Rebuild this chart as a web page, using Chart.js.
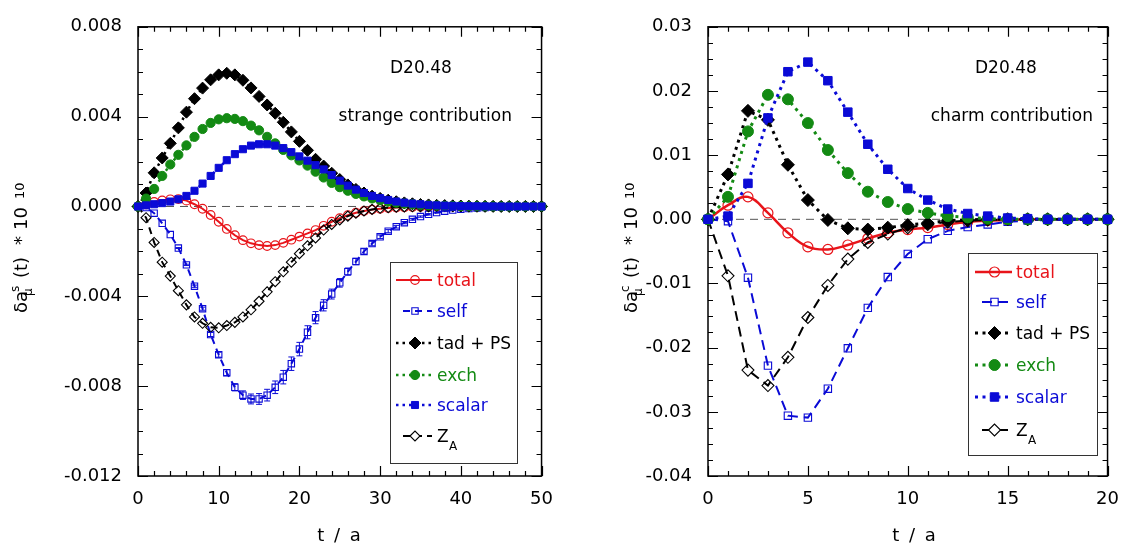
<!DOCTYPE html>
<html>
<head>
<meta charset="utf-8">
<script src="https://cdn.jsdelivr.net/npm/chart.js@4.4.1/dist/chart.umd.min.js"></script>
<style>
  body { margin: 0; background: #fff; }
  #wrap { position: relative; width: 1132px; height: 545px; }
  canvas { position: absolute; top: 0; }
  #cS { left: 0; }
  #cC { left: 566px; }
</style>
</head>
<body>
<div id="wrap">
  <canvas id="cS" width="566" height="545"></canvas>
  <canvas id="cC" width="566" height="545"></canvas>
</div>
<script>
// values in units of 10^-3
const UNIT = 1e-3;

// ---- strange contribution, t/a = 0..50 ----
const tStrange = [0,1,2,3,4,5,6,7,8,9,10,11,12,13,14,15,16,17,18,19,20,21,22,23,24,25,26,27,28,29,30,31,32,33,34,35,36,37,38,39,40,41,42,43,44,45,46,47,48,49,50];
const sTotal  = [0,0.1,0.2,0.27,0.32,0.33,0.26,0.1,-0.1,-0.38,-0.68,-1.0,-1.28,-1.5,-1.64,-1.72,-1.76,-1.72,-1.62,-1.48,-1.34,-1.2,-1.05,-0.86,-0.68,-0.52,-0.39,-0.28,-0.2,-0.14,-0.1,-0.07,-0.05,-0.035,-0.025,-0.018,-0.012,-0.008,-0.006,-0.004,-0.003,-0.002,-0.001,-0.001,0,0,0,0,0,0,0];
const sSelf   = [0,-0.05,-0.3,-0.75,-1.25,-1.85,-2.6,-3.55,-4.55,-5.7,-6.6,-7.4,-8.05,-8.4,-8.57,-8.57,-8.4,-8.05,-7.6,-7.0,-6.35,-5.6,-4.95,-4.4,-3.9,-3.4,-2.9,-2.45,-2.0,-1.65,-1.35,-1.1,-0.9,-0.72,-0.57,-0.45,-0.35,-0.27,-0.21,-0.16,-0.12,-0.09,-0.07,-0.05,-0.04,-0.03,-0.02,-0.015,-0.01,-0.005,0];
const sSelfErr = [0,0,0,0,0,0.02,0.03,0.05,0.07,0.09,0.11,0.13,0.16,0.19,0.22,0.24,0.26,0.28,0.3,0.3,0.3,0.29,0.27,0.25,0.22,0.19,0.16,0.14,0.12,0.1,0.08,0.07,0.06,0.05,0.04,0.03,0.03,0.02,0.02,0.01,0.01,0.01,0,0,0,0,0,0,0,0,0];
const sTad    = [0,0.6,1.5,2.16,2.81,3.5,4.2,4.8,5.27,5.64,5.86,5.93,5.86,5.62,5.28,4.9,4.52,4.15,3.75,3.32,2.9,2.5,2.1,1.8,1.48,1.2,0.96,0.76,0.6,0.46,0.36,0.28,0.21,0.16,0.12,0.09,0.07,0.05,0.04,0.03,0.02,0.015,0.01,0.007,0.005,0.003,0.002,0.001,0.001,0,0];
const sExch   = [0,0.35,0.78,1.36,1.87,2.3,2.72,3.1,3.45,3.72,3.88,3.93,3.9,3.8,3.6,3.39,3.1,2.81,2.52,2.28,2.05,1.82,1.55,1.29,1.05,0.86,0.7,0.56,0.45,0.36,0.28,0.22,0.17,0.13,0.1,0.07,0.05,0.04,0.03,0.02,0.015,0.01,0.007,0.005,0.003,0.002,0.001,0.001,0,0,0];
const sScalar = [0,0.05,0.1,0.15,0.22,0.32,0.47,0.7,1.02,1.36,1.72,2.06,2.33,2.55,2.71,2.77,2.77,2.71,2.6,2.42,2.23,2.04,1.84,1.65,1.4,1.15,0.93,0.75,0.6,0.47,0.37,0.29,0.22,0.17,0.13,0.1,0.07,0.05,0.04,0.03,0.02,0.015,0.01,0.007,0.005,0.003,0.002,0.001,0.001,0,0];
const sZA     = [0,-0.5,-1.6,-2.48,-3.1,-3.75,-4.38,-4.92,-5.2,-5.38,-5.4,-5.3,-5.16,-4.92,-4.6,-4.22,-3.8,-3.35,-2.91,-2.48,-2.1,-1.75,-1.4,-1.05,-0.8,-0.6,-0.43,-0.3,-0.2,-0.13,-0.08,-0.05,-0.03,-0.02,-0.015,-0.01,-0.007,-0.005,-0.003,-0.002,-0.001,-0.001,0,0,0,0,0,0,0,0,0];

// ---- charm contribution, t/a = 0..20 ----
const tCharm  = [0,1,2,3,4,5,6,7,8,9,10,11,12,13,14,15,16,17,18,19,20];
const cTotal  = [0,2.2,3.5,1.0,-2.1,-4.3,-4.7,-4.0,-3.0,-2.1,-1.6,-1.3,-0.8,-0.4,-0.2,-0.1,0,0,0,0,0];
const cSelf   = [0,-0.3,-9.1,-22.8,-30.6,-30.9,-26.4,-20.1,-13.8,-9.0,-5.4,-3.1,-1.8,-1.2,-0.8,-0.4,-0.2,-0.1,0,0,0];
const cTad    = [0,7.0,16.9,15.5,8.5,3.0,-0.1,-1.4,-1.6,-1.3,-0.9,-0.6,-0.2,-0.1,0,0,0,0,0,0,0];
const cExch   = [0,3.5,13.7,19.4,18.7,15.0,10.8,7.2,4.3,2.7,1.6,1.0,0.5,0.3,0.1,0,0,0,0,0,0];
const cScalar = [0,0.5,5.6,15.8,23.0,24.5,21.6,16.7,11.7,7.8,4.8,3.0,1.6,0.9,0.5,0.2,0.1,0,0,0,0];
const cZA     = [0,-8.8,-23.5,-25.9,-21.5,-15.3,-10.3,-6.2,-3.6,-2.3,-1.3,-0.8,-0.4,-0.2,-0.1,0,0,0,0,0,0];

const legendLabels = ['total', 'self', 'tad + PS', 'exch', 'scalar', 'Z_A'];

const RED = '#e8141a', BLUE = '#0a0ad6', GREEN = '#138a13', BLACK = '#000';
const FONT = '"DejaVu Sans", "Liberation Sans", sans-serif';
const F = s => s + 'px ' + FONT;

Chart.defaults.font.family = FONT;
Chart.defaults.font.size = 18;
Chart.defaults.color = '#000';

function pts(t, vals) {
  return vals.map((v, i) => ({ x: t[i], y: v * UNIT }));
}

function styles(big) {
  const dot = big ? [3, 4.5] : [2.5, 4];
  const dash = big ? [10, 6] : [7, 5];
  const dw = big ? 3 : 2.5;
  const none = 'rgba(0,0,0,0)';
  return {
    total:  { borderColor: RED, borderWidth: big ? 2.5 : 2, borderDash: [], pointStyle: 'circle', pointRadius: big ? 5 : 4.3,
              pointBackgroundColor: none, pointBorderColor: RED, pointBorderWidth: 1.2, tension: big ? 0.4 : 0, order: 5, textColor: RED },
    self:   { borderColor: BLUE, borderWidth: 2, borderDash: dash, pointStyle: 'rect', pointRadius: big ? 5.2 : 4.5,
              pointBackgroundColor: none, pointBorderColor: BLUE, pointBorderWidth: 1.1, order: 4, textColor: BLUE },
    tad:    { borderColor: BLACK, borderWidth: dw, borderDash: dot, pointStyle: 'rectRot', pointRadius: big ? 6.5 : 6,
              pointBackgroundColor: BLACK, pointBorderColor: BLACK, pointBorderWidth: 1, order: 2, textColor: BLACK },
    exch:   { borderColor: GREEN, borderWidth: dw, borderDash: dot, pointStyle: 'circle', pointRadius: big ? 5.5 : 4.6,
              pointBackgroundColor: GREEN, pointBorderColor: GREEN, pointBorderWidth: 1, order: 1, textColor: GREEN },
    scalar: { borderColor: BLUE, borderWidth: dw, borderDash: dot, pointStyle: 'rect', pointRadius: big ? 6 : 5,
              pointBackgroundColor: BLUE, pointBorderColor: BLUE, pointBorderWidth: 1, order: 0, textColor: BLUE },
    za:     { borderColor: BLACK, borderWidth: 2, borderDash: dash, pointStyle: 'rectRot', pointRadius: big ? 6 : 5,
              pointBackgroundColor: none, pointBorderColor: BLACK, pointBorderWidth: 1.1, order: 3, textColor: BLACK }
  };
}

function marker(ctx, style, r, x, y) {
  ctx.beginPath();
  if (style === 'circle') {
    ctx.arc(x, y, r, 0, Math.PI * 2);
  } else if (style === 'rect') {
    const h = r * Math.SQRT1_2;
    ctx.rect(x - h, y - h, 2 * h, 2 * h);
  } else {
    ctx.moveTo(x - r, y); ctx.lineTo(x, y - r); ctx.lineTo(x + r, y); ctx.lineTo(x, y + r); ctx.closePath();
  }
  ctx.fill();
  ctx.stroke();
}

function drawYTitle(ctx, cx, cy, flav) {
  ctx.save();
  ctx.translate(cx, cy);
  ctx.rotate(-Math.PI / 2);
  ctx.fillStyle = '#000';
  ctx.textAlign = 'left';
  ctx.textBaseline = 'alphabetic';
  const x0 = -66, base = 7;
  ctx.font = F(18); ctx.fillText('δa', x0, base);
  ctx.font = F(12); ctx.fillText(flav, x0 + 21, base - 8);
  ctx.fillText('μ', x0 + 17, base + 5);
  ctx.font = F(18); ctx.fillText('(t)', x0 + 35, base);
  ctx.fillText('*', x0 + 68, base);
  ctx.fillText('10', x0 + 83, base);
  ctx.font = F(13); ctx.fillText('10', x0 + 114, base - 3);
  ctx.restore();
}

const panelDecor = {
  id: 'panelDecor',
  beforeDatasetsDraw(chart, args, o) {
    const { ctx, chartArea: a, scales: { x, y } } = chart;
    ctx.save();
    // zero line
    const py = y.getPixelForValue(0);
    ctx.strokeStyle = '#555';
    ctx.lineWidth = 1;
    ctx.setLineDash([8, 6]);
    ctx.beginPath(); ctx.moveTo(a.left, py); ctx.lineTo(a.right, py); ctx.stroke();
    ctx.setLineDash([]);
    // frame
    ctx.strokeStyle = '#000';
    ctx.lineWidth = 1.5;
    ctx.strokeRect(a.left, a.top, a.right - a.left, a.bottom - a.top);
    // inward ticks on all four sides
    ctx.lineWidth = 1.2;
    ctx.beginPath();
    const nx = Math.round((x.max - x.min) / o.xMinor);
    for (let i = 0; i <= nx; i++) {
      const v = x.min + i * o.xMinor;
      const len = (i % o.xEvery === 0) ? 10 : 5;
      const px = Math.round(x.getPixelForValue(v)) + 0.5;
      ctx.moveTo(px, a.bottom); ctx.lineTo(px, a.bottom - len);
      ctx.moveTo(px, a.top); ctx.lineTo(px, a.top + len);
    }
    const ny = Math.round((y.max - y.min) / o.yMinor);
    for (let i = 0; i <= ny; i++) {
      const v = y.min + i * o.yMinor;
      const len = (i % o.yEvery === 0) ? 10 : 5;
      const pyy = Math.round(y.getPixelForValue(v)) + 0.5;
      ctx.moveTo(a.left, pyy); ctx.lineTo(a.left + len, pyy);
      ctx.moveTo(a.right, pyy); ctx.lineTo(a.right - len, pyy);
    }
    ctx.stroke();
    ctx.restore();
  },
  afterDatasetsDraw(chart) {
    const { ctx, scales: { y } } = chart;
    chart.data.datasets.forEach((ds, i) => {
      if (!ds.errors) return;
      const meta = chart.getDatasetMeta(i);
      ctx.save();
      ctx.strokeStyle = ds.borderColor;
      ctx.lineWidth = 1;
      ctx.beginPath();
      meta.data.forEach((p, j) => {
        const e = ds.errors[j] * UNIT;
        if (!e) return;
        const v = ds.data[j].y;
        const y1 = y.getPixelForValue(v + e), y2 = y.getPixelForValue(v - e);
        ctx.moveTo(p.x, y1); ctx.lineTo(p.x, y2);
        ctx.moveTo(p.x - 3, y1); ctx.lineTo(p.x + 3, y1);
        ctx.moveTo(p.x - 3, y2); ctx.lineTo(p.x + 3, y2);
      });
      ctx.stroke();
      ctx.restore();
    });
  },
  afterDraw(chart, args, o) {
    const { ctx } = chart;
    ctx.save();
    // annotations
    ctx.fillStyle = '#000';
    ctx.font = F(17);
    ctx.textBaseline = 'alphabetic';
    ctx.textAlign = 'left';
    ctx.fillText('D20.48', o.idX, o.idY);
    ctx.textAlign = 'right';
    ctx.fillText(o.note, o.noteX, o.noteY);
    // axis titles
    ctx.textAlign = 'center';
    ctx.font = F(18);
    ctx.letterSpacing = '2px';
    ctx.fillText('t / a', o.xtX, o.xtY);
    ctx.letterSpacing = '0px';
    drawYTitle(ctx, o.ytX, o.ytY, o.flav);

    // legend box
    const b = o.box;
    ctx.fillStyle = '#fff';
    ctx.fillRect(b[0], b[1], b[2] - b[0], b[3] - b[1]);
    ctx.strokeStyle = '#333';
    ctx.lineWidth = 1;
    ctx.strokeRect(b[0] + 0.5, b[1] + 0.5, b[2] - b[0], b[3] - b[1]);
    legendLabels.forEach((lab, k) => {
      const ds = chart.data.datasets.find(d => d.label === lab);
      const yy = o.rows[k];
      const x1 = o.lineX[0] + ((lab === 'self' || lab === 'Z_A') ? 7 : 0);
      const x2 = o.lineX[1];
      ctx.strokeStyle = ds.borderColor;
      ctx.lineWidth = ds.borderWidth;
      ctx.setLineDash(ds.borderDash);
      ctx.beginPath(); ctx.moveTo(x1, yy); ctx.lineTo(x2, yy); ctx.stroke();
      ctx.setLineDash([]);
      ctx.fillStyle = lab === 'Z_A' ? '#fff' : ds.pointBackgroundColor;
      ctx.strokeStyle = ds.pointBorderColor;
      ctx.lineWidth = ds.pointBorderWidth;
      marker(ctx, ds.pointStyle, ds.pointRadius, (o.lineX[0] + o.lineX[1]) / 2 + 1, yy);
      ctx.fillStyle = ds.textColor;
      ctx.textAlign = 'left';
      ctx.font = F(17);
      if (lab === 'Z_A') {
        ctx.fillText('Z', o.textX, yy + 6);
        ctx.font = F(12);
        ctx.fillText('A', o.textX + 12, yy + 14);
      } else {
        ctx.fillText(lab, o.textX, yy + 6);
      }
    });
    ctx.restore();
  }
};

function makeChart(id, t, series, big, sc, deco) {
  const st = styles(big);
  const build = (label, vals, s, extra) => Object.assign({ label, data: pts(t, vals), clip: false }, s, extra || {});
  const datasets = [
    build('total', series.total, st.total),
    build('self', series.self, st.self, series.selfErr ? { errors: series.selfErr } : {}),
    build('tad + PS', series.tad, st.tad),
    build('exch', series.exch, st.exch),
    build('scalar', series.scalar, st.scalar),
    build('Z_A', series.za, st.za)
  ];
  return new Chart(document.getElementById(id), {
    type: 'line',
    data: { datasets },
    options: {
      responsive: false,
      animation: false,
      layout: { padding: { top: sc.top, right: sc.right, left: 0, bottom: 0 } },
      plugins: { legend: { display: false }, tooltip: { enabled: false }, panelDecor: deco },
      scales: {
        x: {
          type: 'linear', min: sc.xMin, max: sc.xMax,
          ticks: { stepSize: sc.xStep, padding: 13, maxRotation: 0, autoSkip: false, font: { size: 18 } },
          grid: { display: false, drawTicks: false },
          border: { display: false },
          afterFit: s => { s.height = 69; }
        },
        y: {
          type: 'linear', min: sc.yMin, max: sc.yMax,
          ticks: {
            stepSize: sc.yStep, padding: 16, autoSkip: false, font: { size: 18 },
            callback: v => Math.abs(v) < 1e-9 ? (0).toFixed(sc.dec) : v.toFixed(sc.dec)
          },
          grid: { display: false, drawTicks: false },
          border: { display: false },
          afterFit: s => { s.width = sc.yWidth; }
        }
      }
    },
    plugins: [panelDecor]
  });
}

makeChart('cS', tStrange,
  { total: sTotal, self: sSelf, selfErr: sSelfErr, tad: sTad, exch: sExch, scalar: sScalar, za: sZA },
  false,
  { top: 18, right: 21, yWidth: 138, xMin: 0, xMax: 50, xStep: 10, yMin: -0.012, yMax: 0.008, yStep: 0.004, dec: 3 },
  { xMinor: 2, xEvery: 5, yMinor: 0.001, yEvery: 4,
    idX: 390, idY: 73, note: 'strange contribution', noteX: 512, noteY: 121,
    xtX: 340, xtY: 541, ytX: 20, ytY: 247, flav: 's',
    box: [390, 262, 517, 463], rows: [280, 311, 343, 375, 405, 436], lineX: [396, 432], textX: 437 });

makeChart('cC', tCharm,
  { total: cTotal, self: cSelf, tad: cTad, exch: cExch, scalar: cScalar, za: cZA },
  true,
  { top: 20, right: 14, yWidth: 142, xMin: 0, xMax: 20, xStep: 5, yMin: -0.04, yMax: 0.03, yStep: 0.01, dec: 2 },
  { xMinor: 1, xEvery: 5, yMinor: 0.0025, yEvery: 4,
    idX: 409, idY: 73, note: 'charm contribution', noteX: 527, noteY: 121,
    xtX: 349, xtY: 541, ytX: 64, ytY: 247, flav: 'c',
    box: [402, 253, 531, 455], rows: [272, 302, 333, 365, 397, 430], lineX: [409, 446], textX: 450 });
</script>
</body>
</html>
